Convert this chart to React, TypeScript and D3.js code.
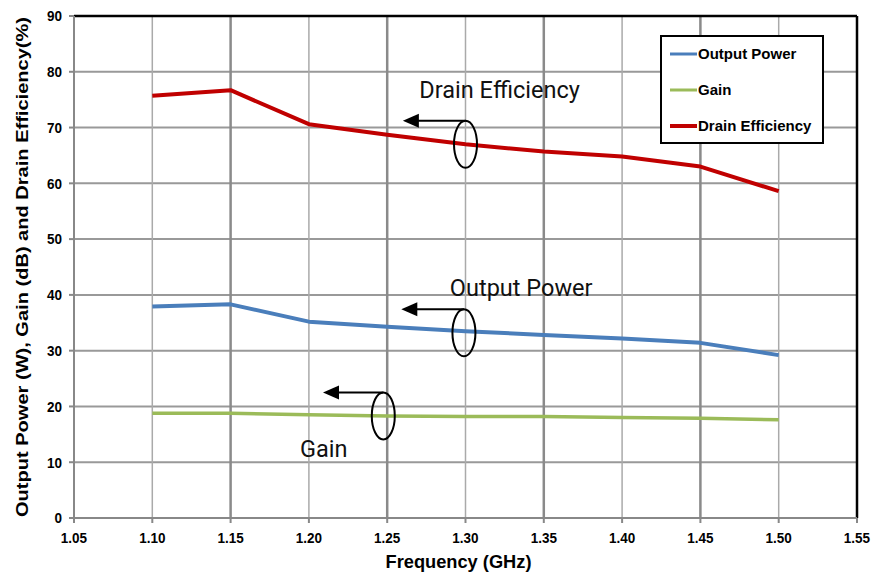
import React from "react";
import * as d3 from "d3";

const freq = [1.1, 1.15, 1.2, 1.25, 1.3, 1.35, 1.4, 1.45, 1.5];
const outputPower = [37.9, 38.3, 35.2, 34.3, 33.5, 32.8, 32.2, 31.4, 29.2];
const gain = [18.8, 18.8, 18.5, 18.3, 18.2, 18.2, 18.0, 17.9, 17.6];
const drainEff = [75.7, 76.7, 70.6, 68.7, 67.0, 65.7, 64.8, 63.0, 58.6];

const xTicks = [1.05, 1.1, 1.15, 1.2, 1.25, 1.3, 1.35, 1.4, 1.45, 1.5, 1.55];
const yTicks = [0, 10, 20, 30, 40, 50, 60, 70, 80, 90];

const seriesNames = ["Output Power", "Gain", "Drain Efficiency"];
const seriesColors = ["#4a7ebb", "#9bbb59", "#c00000"];

// annotation: label text, ellipse center (data), arrow tip x (data), label anchor (data)
const annLabels = ["Drain Efficiency", "Output Power", "Gain"];
const annCenterX = [1.3, 1.299, 1.2475];
const annCenterY = [67.0, 33.2, 18.3];
const annTipX = [1.26, 1.259, 1.209];
const annTextX = [1.2705, 1.29, 1.1943];
const annTextY = [75.3, 39.8, 10.9];

export default function App() {
  const W = 875, H = 574;
  const left = 74, right = 857, top = 16, bottom = 518;
  const x = d3.scaleLinear().domain([1.05, 1.55]).range([left, right]);
  const y = d3.scaleLinear().domain([0, 90]).range([bottom, top]);
  const series = [outputPower, gain, drainEff];
  const line = d3
    .line<number>()
    .x((_, i) => x(freq[i]))
    .y((d) => y(d));
  const font = "'Liberation Sans', Arial, sans-serif";
  const rx = 11.5, ry = 23.5;

  return (
    <svg width={W} height={H} style={{ position: "absolute", left: 0, top: 0, background: "#fff" }}>
      <rect x={0} y={0} width={W} height={H} fill="#fff" />
      {yTicks.slice(1).map((t) => (
        <line key={"h" + t} x1={left} x2={right} y1={y(t)} y2={y(t)} stroke="#999" strokeWidth={2} />
      ))}
      {xTicks.slice(1, -1).map((t, i) => (
        <line
          key={"v" + t}
          x1={x(t)}
          x2={x(t)}
          y1={top}
          y2={bottom}
          stroke={i % 2 === 1 ? "#8a8a8a" : "#aaaaaa"}
          strokeWidth={i % 2 === 1 ? 2.5 : 1.5}
        />
      ))}
      <line x1={left} x2={right} y1={top} y2={top} stroke="#000" strokeWidth={2.5} />
      <line x1={right} x2={right} y1={top} y2={bottom} stroke="#000" strokeWidth={2.5} />
      <line x1={left} x2={left} y1={top} y2={bottom} stroke="#888" strokeWidth={2} />
      <line x1={left - 5} x2={right} y1={bottom} y2={bottom} stroke="#888" strokeWidth={2} />
      {yTicks.map((t) => (
        <g key={"yt" + t}>
          <line x1={left - 5} x2={left} y1={y(t)} y2={y(t)} stroke="#888" strokeWidth={2} />
          <text x={left - 12} y={y(t)} dy="0.36em" textAnchor="end" fontFamily={font} fontWeight="bold" fontSize={15} fill="#000"
            transform={`translate(${left - 12},0) scale(0.9,1) translate(${-(left - 12)},0)`}>
            {t}
          </text>
        </g>
      ))}
      {xTicks.map((t) => (
        <g key={"xt" + t}>
          <line x1={x(t)} x2={x(t)} y1={bottom} y2={bottom + 5} stroke="#888" strokeWidth={2} />
          <text x={x(t)} y={bottom + 25} textAnchor="middle" fontFamily={font} fontWeight="bold" fontSize={15} fill="#000"
            transform={`translate(${x(t)},0) scale(0.9,1) translate(${-x(t)},0)`}>
            {t.toFixed(2)}
          </text>
        </g>
      ))}
      <text x={(left + right) / 2 - 7} y={568} textAnchor="middle" fontFamily={font} fontWeight="bold" fontSize={17.5} fill="#000"
        textLength={146} lengthAdjust="spacingAndGlyphs">
        Frequency (GHz)
      </text>
      <text
        transform={`translate(28, ${(top + bottom) / 2}) rotate(-90)`}
        textAnchor="middle"
        fontFamily={font}
        fontWeight="bold"
        fontSize={16.5}
        fill="#000"
        textLength={500}
        lengthAdjust="spacingAndGlyphs"
      >
        Output Power (W), Gain (dB) and Drain Efficiency(%)
      </text>
      {series.map((s, i) => (
        <path key={"s" + i} d={line(s) || ""} fill="none" stroke={seriesColors[i]} strokeWidth={i === 1 ? 3.5 : 4} strokeLinejoin="round" />
      ))}
      <rect x={661} y={36} width={162} height={107} fill="#fff" stroke="#000" strokeWidth={2} />
      {seriesNames.map((n, i) => (
        <g key={"lg" + i}>
          <line x1={670} x2={697} y1={54 + i * 36} y2={54 + i * 36} stroke={seriesColors[i]} strokeWidth={i === 2 ? 4 : 3} />
          <text x={698} y={54 + i * 36} dy="0.35em" fontFamily={font} fontWeight="bold" fontSize={15} fill="#000">
            {n}
          </text>
        </g>
      ))}
      {annLabels.map((lab, i) => {
        const cx = x(annCenterX[i]);
        const cy = y(annCenterY[i]);
        return (
          <g key={"an" + i}>
            <ellipse cx={cx} cy={cy} rx={rx} ry={ry} fill="none" stroke="#000" strokeWidth={2} />
            <line x1={cx} x2={x(annTipX[i]) + 4} y1={cy - ry} y2={cy - ry} stroke="#000" strokeWidth={2} />
            <path d={`M${x(annTipX[i])},${cy - ry} l16,-7 l0,14 z`} fill="#000" />
            <text x={x(annTextX[i])} y={y(annTextY[i])} fontFamily="Roboto, sans-serif" fontSize={23.5} fill="#111">
              {lab}
            </text>
          </g>
        );
      })}
    </svg>
  );
}
